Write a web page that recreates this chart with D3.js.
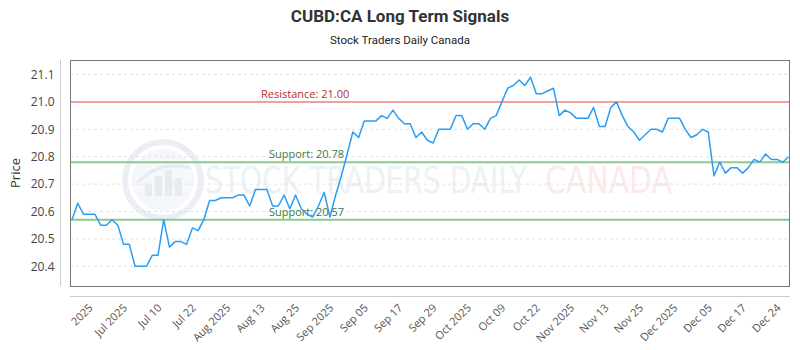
<!DOCTYPE html>
<html>
<head>
<meta charset="utf-8">
<script src="https://cdn.jsdelivr.net/npm/d3@7"></script>
<style>
  html, body { margin: 0; padding: 0; background: #fff; }
  svg { display: block; }
</style>
</head>
<body>
<svg id="chart" width="800" height="350"></svg>
<script>
// ---- data ----
const prices = [
  20.57, 20.63, 20.59, 20.59, 20.59, 20.55, 20.55, 20.57, 20.55, 20.48,
  20.48, 20.40, 20.40, 20.40, 20.44, 20.44, 20.57, 20.47, 20.49, 20.49,
  20.48, 20.54, 20.53, 20.57, 20.64, 20.64, 20.65, 20.65, 20.65, 20.66,
  20.66, 20.62, 20.68, 20.68, 20.68, 20.62, 20.62, 20.66, 20.61, 20.66,
  20.61, 20.59, 20.58, 20.62, 20.67, 20.58, 20.66, 20.73, 20.81, 20.89,
  20.87, 20.93, 20.93, 20.93, 20.95, 20.94, 20.97, 20.94, 20.92, 20.92,
  20.87, 20.89, 20.86, 20.85, 20.90, 20.90, 20.90, 20.95, 20.95, 20.90,
  20.92, 20.92, 20.90, 20.94, 20.95, 21.00, 21.05, 21.06, 21.08, 21.06,
  21.09, 21.03, 21.03, 21.04, 21.05, 20.95, 20.97, 20.96, 20.94, 20.94,
  20.94, 20.98, 20.91, 20.91, 20.98, 21.00, 20.95, 20.91, 20.89, 20.86,
  20.88, 20.90, 20.90, 20.89, 20.94, 20.94, 20.94, 20.90, 20.87, 20.88,
  20.90, 20.89, 20.73, 20.78, 20.74, 20.76, 20.76, 20.74, 20.76, 20.79,
  20.78, 20.81, 20.79, 20.79, 20.78, 20.80
];
const xTickLabels = [
  "2025", "Jul 2025", "Jul 10", "Jul 22", "Aug 2025", "Aug 13", "Aug 25",
  "Sep 2025", "Sep 05", "Sep 17", "Sep 29", "Oct 2025", "Oct 09", "Oct 22",
  "Nov 2025", "Nov 13", "Nov 25", "Dec 2025", "Dec 05", "Dec 17", "Dec 24"
];
const yTickValues = [20.4, 20.5, 20.6, 20.7, 20.8, 20.9, 21.0, 21.1];
const levelNames = ["Resistance", "Support", "Support"];
const levelValues = [21.00, 20.78, 20.57];
const titleText = "CUBD:CA Long Term Signals";
const subtitleText = "Stock Traders Daily Canada";
const yAxisTitle = "Price";

// ---- layout ----
const svg = d3.select("#chart");
const pLeft = 70, pRight = 790, pTop = 60, pBottom = 286;
const tickStart = 3.5, tickEvery = 6;

const x = d3.scaleLinear().domain([0, prices.length - 1]).range([72, 788.5]);
const y = d3.scaleLinear().domain([20.328, 21.153]).range([pBottom, pTop]);

// title
svg.append("text").attr("x", 400).attr("y", 22)
  .attr("text-anchor", "middle")
  .attr("font-family", "Roboto, sans-serif").attr("font-weight", 700)
  .attr("font-size", 17).attr("fill", "#333").text(titleText);
svg.append("text").attr("x", 400).attr("y", 44)
  .attr("text-anchor", "middle")
  .attr("font-family", "Roboto, sans-serif")
  .attr("font-size", 11.5).attr("fill", "#222").text(subtitleText);

// watermark
const wm = svg.append("g");
wm.append("circle").attr("cx", 163).attr("cy", 180).attr("r", 38)
  .attr("fill", "none").attr("stroke", "#ebeff5").attr("stroke-width", 6);
wm.append("circle").attr("cx", 163).attr("cy", 180).attr("r", 31)
  .attr("fill", "#f5f7fb");
[[-18, 12], [-8, 20], [2, 26], [12, 18]].forEach(([dx, h]) => {
  wm.append("rect").attr("x", 163 + dx).attr("y", 196 - h).attr("width", 7).attr("height", h)
    .attr("fill", "#e6ebf3");
});
wm.append("path").attr("d", "M138,182 Q160,160 190,168").attr("fill", "none")
  .attr("stroke", "#e6ebf3").attr("stroke-width", 3);
const wmText = wm.append("text").attr("y", 193)
  .attr("font-family", "'Liberation Sans Narrow', 'DejaVu Sans Condensed', sans-serif")
  .attr("font-size", 38);
wmText.append("tspan").attr("x", 205).attr("textLength", 322).attr("lengthAdjust", "spacingAndGlyphs")
  .attr("fill", "#edf1f6").text("STOCK TRADERS DAILY");
wmText.append("tspan").attr("x", 545).attr("textLength", 127).attr("lengthAdjust", "spacingAndGlyphs")
  .attr("fill", "#fde9e9").text("CANADA");

// grid
svg.append("g").selectAll("line").data(yTickValues).join("line")
  .attr("x1", pLeft).attr("x2", pRight)
  .attr("y1", d => y(d)).attr("y2", d => y(d))
  .attr("stroke", "#e2e2e2").attr("stroke-dasharray", "3,3");

// level lines
const levelColors = ["#f4a09a", "#8cc98c", "#8cc98c"];
const levelText = ["#b3322b", "#3c7a3c", "#3c7a3c"];
levelValues.forEach((v, i) => {
  svg.append("line").attr("x1", pLeft).attr("x2", pRight)
    .attr("y1", y(v)).attr("y2", y(v))
    .attr("stroke", levelColors[i]).attr("stroke-width", 2);
  svg.append("text").attr("x", i === 0 ? 261 : 269).attr("y", y(v) - 4)
    .attr("font-family", "'Open Sans', sans-serif").attr("font-size", 11)
    .attr("fill", levelText[i]).text(levelNames[i] + ": " + v.toFixed(2));
});

// price line
svg.append("path").datum(prices)
  .attr("fill", "none").attr("stroke", "#2a9df4").attr("stroke-width", 1.5)
  .attr("stroke-linejoin", "round")
  .attr("d", d3.line().x((d, i) => x(i)).y(d => y(d)));

// frame
svg.append("rect").attr("x", pLeft + 0.5).attr("y", pTop + 0.5)
  .attr("width", pRight - pLeft - 1).attr("height", pBottom - pTop)
  .attr("fill", "none").attr("stroke", "#777").attr("stroke-width", 1);

// y axis
const yAxis = d3.axisLeft(y).tickValues(yTickValues).tickFormat(d3.format(".1f")).tickSize(0).tickPadding(6);
const gy = svg.append("g").attr("transform", "translate(60.5,0)").call(yAxis);
gy.select(".domain").attr("stroke", "#ccc").attr("d", `M0,${pTop}V${pBottom}`);
gy.selectAll("text").attr("font-family", "'Open Sans', sans-serif").attr("font-size", 12).attr("fill", "#444");

svg.append("text").attr("transform", `translate(20,${(pTop + pBottom) / 2}) rotate(-90)`)
  .attr("text-anchor", "middle")
  .attr("font-family", "'Open Sans', sans-serif").attr("font-size", 13).attr("fill", "#333")
  .text(yAxisTitle);

// x axis
const tickIdx = xTickLabels.map((_, k) => tickStart + tickEvery * k);
const xAxis = d3.axisBottom(x).tickValues(tickIdx).tickFormat((d, k) => xTickLabels[k]).tickSize(0).tickPadding(0);
const gx = svg.append("g").attr("transform", "translate(0,296.5)").call(xAxis);
gx.select(".domain").attr("stroke", "#ccc").attr("d", `M${pLeft},0H${pRight}`);
gx.selectAll("text")
  .attr("font-family", "'Open Sans', sans-serif").attr("font-size", 11).attr("fill", "#555")
  .attr("text-anchor", "end")
  .attr("dy", null).attr("y", 0)
  .attr("transform", "translate(1,12) rotate(-45)");
</script>
</body>
</html>
